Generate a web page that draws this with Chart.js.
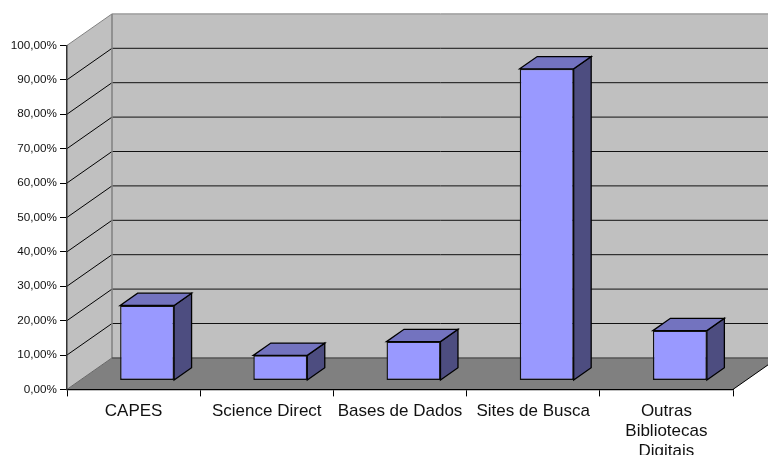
<!DOCTYPE html>
<html><head><meta charset="utf-8">
<style>html,body{margin:0;padding:0;background:#fff;overflow:hidden}canvas{display:block}</style>
<script src="https://cdn.jsdelivr.net/npm/chart.js@4"></script></head>
<body><canvas id="c" width="768" height="455"></canvas>
<script>
const categories = ['CAPES','Science Direct','Bases de Dados','Sites de Busca',['Outras','Bibliotecas','Digitais']];
const values = [21.8,7.3,11.3,90.6,14.5];

const WALL='#C0C0C0', FLOOR='#808080', FRONT='#9999FF', TOP='#7373BF', SIDE='#4D4D80';
const DEPTH={dx:45,dy:31.5}, SHIFT={dx:13.5,dy:8.9}, BAR={dx:17.5,dy:12.3};

function poly(ctx,pts,fill,stroke,lw){
  ctx.beginPath();pts.forEach((p,i)=>i?ctx.lineTo(p[0],p[1]):ctx.moveTo(p[0],p[1]));ctx.closePath();
  if(fill){ctx.fillStyle=fill;ctx.fill();}
  if(stroke){ctx.strokeStyle=stroke;ctx.lineWidth=lw||1;ctx.stroke();}
}
function seg(ctx,x1,y1,x2,y2,c,lw){ctx.beginPath();ctx.moveTo(x1,y1);ctx.lineTo(x2,y2);ctx.strokeStyle=c;ctx.lineWidth=lw||1;ctx.stroke();}

const scene={
  id:'scene',
  beforeDraw(chart){
    const {ctx,chartArea:a,scales:{y}}=chart, d=DEPTH;
    const L=a.left,R=a.right,T=y.getPixelForValue(100),B=y.getPixelForValue(0);
    ctx.save();
    poly(ctx,[[L+d.dx,T-d.dy],[R+d.dx,T-d.dy],[R+d.dx,B-d.dy],[L+d.dx,B-d.dy]],WALL);
    poly(ctx,[[L,T],[L+d.dx,T-d.dy],[L+d.dx,B-d.dy],[L,B]],WALL);
    poly(ctx,[[L,B],[R,B],[R+d.dx,B-d.dy],[L+d.dx,B-d.dy]],FLOOR);
    y.ticks.forEach(t=>{
      const p=y.getPixelForValue(t.value);
      if(t.value===0||t.value===100)return;
      seg(ctx,L,p,L+d.dx,p-d.dy,'#000');
      seg(ctx,L+d.dx,p-d.dy,R+d.dx,p-d.dy,'#111');
    });
    seg(ctx,L,T,L+d.dx,T-d.dy,'#808080');
    seg(ctx,L+d.dx,T-d.dy,R+d.dx,T-d.dy,'#808080');
    seg(ctx,L+d.dx,T-d.dy,L+d.dx,B-d.dy,'#808080',1.5);
    seg(ctx,L,B,L+d.dx,B-d.dy,'#666');
    seg(ctx,L+d.dx,B-d.dy,R+d.dx,B-d.dy,'#555',1.5);
    seg(ctx,R,B,R+d.dx,B-d.dy,'#000');
    ctx.restore();
  },
  beforeDatasetDraw(chart,args){
    const ctx=chart.ctx;
    ctx.save();
    ctx.translate(SHIFT.dx,-SHIFT.dy);
    args.meta.data.forEach(el=>{
      const l=el.x-el.width/2,r=el.x+el.width/2,t=el.y,b=el.base,k=BAR;
      poly(ctx,[[r,t],[r+k.dx,t-k.dy],[r+k.dx,b-k.dy],[r,b]],SIDE,'#000',1.3);
      poly(ctx,[[l,t],[l+k.dx,t-k.dy],[r+k.dx,t-k.dy],[r,t]],TOP,'#000',1.3);
    });
  },
  afterDatasetDraw(chart){chart.ctx.restore();}
};

new Chart(document.getElementById('c'),{
  type:'bar',
  data:{labels:categories,datasets:[{data:values,backgroundColor:FRONT,borderColor:'#111',borderWidth:1.4,borderSkipped:false,
    categoryPercentage:0.405,barPercentage:1,clip:false}]},
  options:{
    responsive:false,animation:false,
    layout:{padding:{top:45.4,right:35,left:0,bottom:0}},
    plugins:{legend:{display:false},tooltip:{enabled:false},title:{display:false}},
    scales:{
      x:{
        afterFit(s){s.height=65.6;},
        offset:true,
        grid:{offset:true,drawOnChartArea:false,drawTicks:true,tickLength:7,color:'#000'},
        border:{color:'#000',width:1.3},
        ticks:{color:'#111',autoSkip:false,maxRotation:0,minRotation:0,padding:5,
          font:{family:'"Liberation Sans",Arial,sans-serif',size:17,lineHeight:1.17}}
      },
      y:{
        min:0,max:100,
        afterFit(s){s.width=67;},
        grid:{drawOnChartArea:false,drawTicks:true,tickLength:7,color:'#000'},
        border:{color:'#333',width:1.5},
        ticks:{stepSize:10,color:'#111',padding:3,
          font:{family:'"Liberation Sans",Arial,sans-serif',size:11.7},
          callback:v=>v.toFixed(2).replace('.',',')+'%'}
      }
    }
  },
  plugins:[scene]
});
</script></body></html>
